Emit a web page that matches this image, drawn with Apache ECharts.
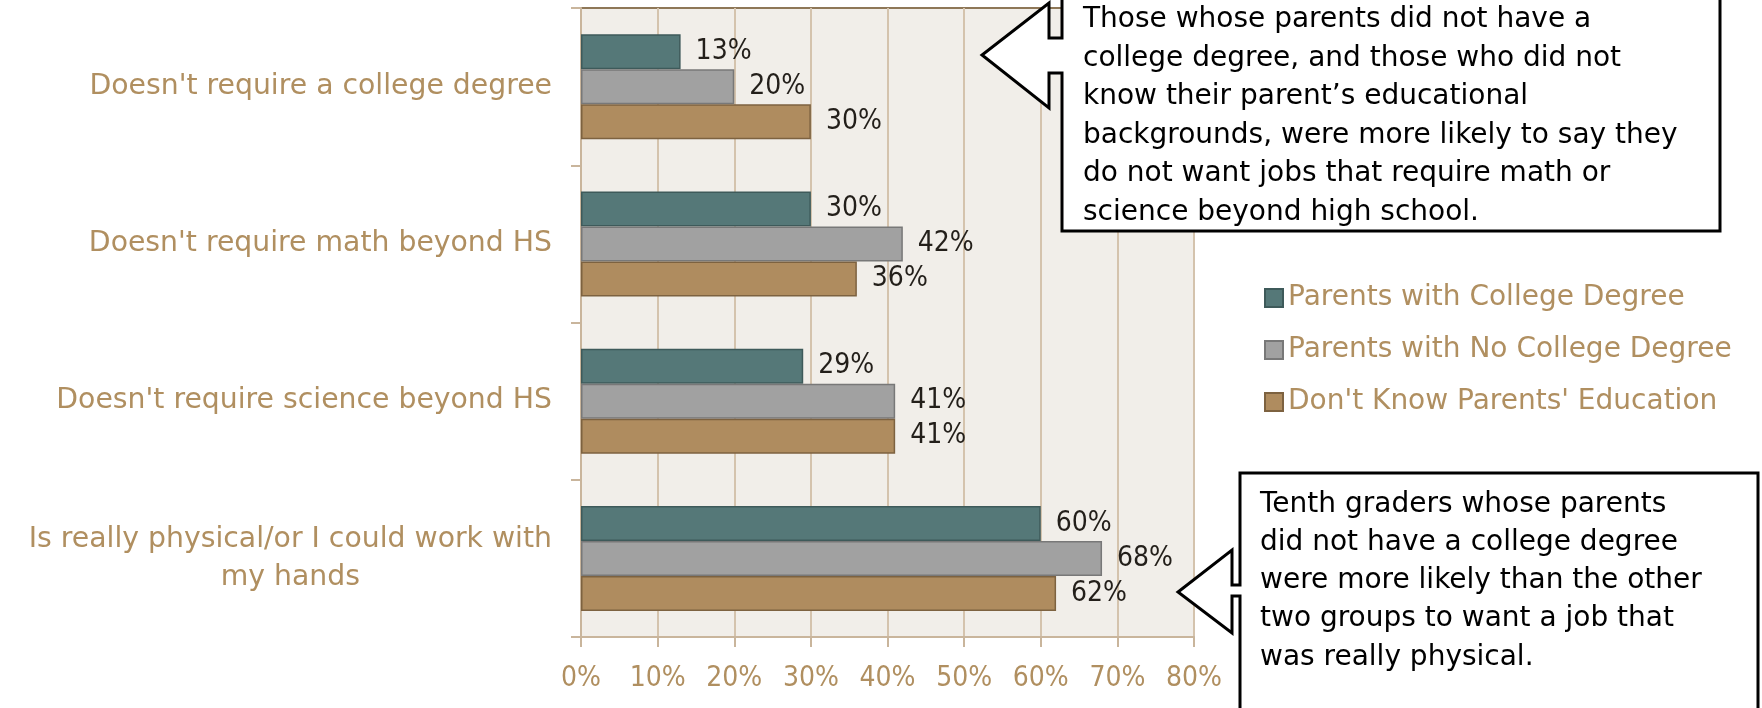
<!DOCTYPE html>
<html>
<head>
<meta charset="utf-8">
<script src="https://cdn.jsdelivr.net/npm/echarts@6/dist/echarts.min.js"></script>
<style>
html, body { margin: 0; padding: 0; background: #ffffff; }
#chart { width: 1762px; height: 708px; }
</style>
</head>
<body>
<div id="chart"></div>
<script>
// ---- data ----
const categories = [
  "Doesn't require a college degree",
  "Doesn't require math beyond HS",
  "Doesn't require science beyond HS",
  "Is really physical/or I could work with\nmy hands"
];
const seriesNames = [
  "Parents with College Degree",
  "Parents with No College Degree",
  "Don't Know Parents' Education"
];
const collegeDegree   = [13, 30, 29, 60];
const noCollegeDegree = [20, 42, 41, 68];
const dontKnow        = [30, 36, 41, 62];
const xTicks = { min: 0, max: 80, interval: 10 };

const note1Lines = [
  "Those whose parents did not have a",
  "college degree, and those who did not",
  "know their parent\u2019s educational",
  "backgrounds, were more likely to say they",
  "do not want jobs that require math or",
  "science beyond high school."
];
const note2Lines = [
  "Tenth graders whose parents",
  "did not have a college degree",
  "were more likely than the other",
  "two groups to want a job that",
  "was really physical."
];

// ---- styles ----
const TAN_TEXT = '#B08F60';
const NARROW = '"Liberation Sans Narrow", "DejaVu Sans Condensed", "Arial Narrow", sans-serif';
const SANS = '"DejaVu Sans", sans-serif';
const fills   = ['#557878', '#A1A1A1', '#AF8C5F'];
const borders = ['#3E5A5A', '#787878', '#7D6240'];
const seriesData = [collegeDegree, noCollegeDegree, dontKnow];

const chart = echarts.init(document.getElementById('chart'), null, { renderer: 'canvas' });

const series = seriesNames.map((name, i) => ({
  name: name,
  type: 'bar',
  data: seriesData[i],
  barWidth: 35,
  barGap: '0%',
  itemStyle: { color: fills[i], borderColor: borders[i], borderWidth: 1.5 },
  label: {
    show: true,
    position: 'right',
    distance: 15,
    formatter: '{c}%',
    color: '#231F1A',
    fontFamily: NARROW,
    fontSize: 28
  },
  emphasis: { disabled: true },
  z: 2
}));

const option = {
  backgroundColor: '#ffffff',
  animation: false,
  grid: {
    left: 581, right: 568, top: 8, bottom: 71,
    show: true,
    backgroundColor: '#F1EEE9',
    borderColor: '#8E7757',
    borderWidth: 2
  },
  legend: {
    orient: 'vertical',
    left: 1259,
    top: 278,
    itemWidth: 18,
    itemHeight: 18,
    itemGap: 22,
    icon: 'rect',
    data: seriesNames,
    textStyle: { color: TAN_TEXT, fontFamily: SANS, fontSize: 28, lineHeight: 30 }
  },
  xAxis: {
    type: 'value',
    min: xTicks.min, max: xTicks.max, interval: xTicks.interval,
    axisLine: { show: true, lineStyle: { color: '#C9B59C', width: 2 } },
    axisTick: { show: true, length: 10, lineStyle: { color: '#C9B59C', width: 2 } },
    splitLine: { show: true, lineStyle: { color: '#D4C3AD', width: 2 } },
    axisLabel: {
      formatter: '{value}%',
      color: TAN_TEXT,
      fontFamily: NARROW,
      fontSize: 28,
      margin: 28
    }
  },
  yAxis: {
    type: 'category',
    data: categories,
    inverse: true,
    axisLine: { show: true, lineStyle: { color: '#C9B59C', width: 2 } },
    axisTick: { show: true, length: 10, lineStyle: { color: '#C9B59C', width: 2 } },
    axisLabel: {
      margin: 29,
      formatter: function (v) {
        return v.split('\n').map(s => '{c|' + s + '}').join('\n');
      },
      rich: {
        c: { align: 'center', color: TAN_TEXT, fontFamily: SANS, fontSize: 28.3, lineHeight: 38 }
      }
    }
  },
  series: series,
  graphic: [
    {
      type: 'polygon', z: 100,
      shape: { points: [
        [1062, -10], [1720, -10], [1720, 231], [1062, 231], [1062, 73],
        [1049, 73], [1049, 108], [982, 55], [1049, 3], [1049, 38], [1062, 38]
      ] },
      style: { fill: '#ffffff', stroke: '#000000', lineWidth: 3 }
    },
    {
      type: 'text', z: 101, x: 1083, y: 0.5,
      style: { text: note1Lines.join('\n'), fill: '#000000', fontFamily: SANS, fontSize: 28, lineHeight: 38.5, verticalAlign: 'top', align: 'left' }
    },
    {
      type: 'polygon', z: 100,
      shape: { points: [
        [1240, 473], [1758, 473], [1758, 720], [1240, 720], [1240, 596],
        [1232, 596], [1232, 633], [1178, 592], [1232, 550], [1232, 585], [1240, 585]
      ] },
      style: { fill: '#ffffff', stroke: '#000000', lineWidth: 3 }
    },
    {
      type: 'text', z: 101, x: 1260, y: 485.5,
      style: { text: note2Lines.join('\n'), fill: '#000000', fontFamily: SANS, fontSize: 28, lineHeight: 38.2, verticalAlign: 'top', align: 'left' }
    }
  ]
};

chart.setOption(option);
</script>
</body>
</html>
